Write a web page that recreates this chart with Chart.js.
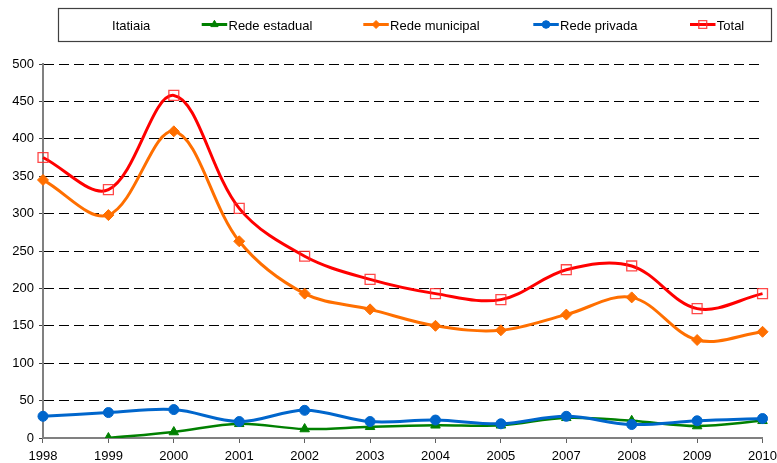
<!DOCTYPE html>
<html><head><meta charset="utf-8">
<script src="https://cdn.jsdelivr.net/npm/chart.js@4/dist/chart.umd.min.js"></script>
<style>html,body{margin:0;padding:0;background:#fff}#wrap{width:777px;height:463px;position:relative}</style>
</head><body><div id="wrap"><canvas id="c" width="777" height="463"></canvas></div>
<script>
const categories = ['1998','1999','2000','2001','2002','2003','2004','2005','2007','2008','2009','2010'];
const legendTitle = 'Itatiaia';
const seriesLabels = ['Rede estadual','Rede municipal','Rede privada','Total'];
const redeEstadual = [null,0,8,19,12,15,17,17,27,23,16,23];
const redeMunicipal = [345,298,410,263,193,172,150,144,165,188,131,142];
const redePrivada = [29,34,38,22,37,22,24,19,29,18,23,26];
const total = [375,332,458,307,243,212,193,185,225,230,173,193];
const yMin = 0, yMax = 500, yStep = 50;

const FONT = '"Liberation Sans", Arial, sans-serif';

function marker(ctx, style, r, x, y, fill, stroke, bw){
  ctx.save();
  ctx.beginPath();
  if(style==='circle'){ ctx.arc(x,y,r,0,Math.PI*2); }
  else if(style==='rectRot'){ ctx.moveTo(x-r,y); ctx.lineTo(x,y-r); ctx.lineTo(x+r,y); ctx.lineTo(x,y+r); ctx.closePath(); }
  else if(style==='triangle'){
    let a=0; ctx.moveTo(x+Math.sin(a)*r, y-Math.cos(a)*r);
    a+=2*Math.PI/3; ctx.lineTo(x+Math.sin(a)*r, y-Math.cos(a)*r);
    a+=2*Math.PI/3; ctx.lineTo(x+Math.sin(a)*r, y-Math.cos(a)*r); ctx.closePath();
  } else if(style==='rect'){ const s=Math.SQRT1_2*r; ctx.rect(x-s,y-s,2*s,2*s); }
  ctx.fillStyle=fill; ctx.fill();
  if(bw>0){ ctx.lineWidth=bw; ctx.strokeStyle=stroke; ctx.stroke(); }
  ctx.restore();
}

const legendPlugin = {
  id: 'excelLegend',
  afterDraw(chart){
    const ctx = chart.ctx;
    ctx.save();
    ctx.strokeStyle = '#404040'; ctx.lineWidth = 1.2;
    ctx.strokeRect(58.5, 8.5, 713, 33);
    ctx.fillStyle = '#000';
    ctx.font = '13px ' + FONT;
    ctx.textBaseline = 'middle';
    ctx.textAlign = 'center';
    ctx.fillText(legendTitle, 131.2, 26);
    const lineX = [201.7, 363.3, 533.3, 690];
    const legR = [4.2, 4, 3.8, 5.6];
    chart.data.datasets.forEach((ds, i) => {
      const x0 = lineX[i], x1 = x0 + 25.5, y = 24.5;
      ctx.save();
      ctx.strokeStyle = ds.borderColor; ctx.lineWidth = 3;
      ctx.beginPath(); ctx.moveTo(x0, y); ctx.lineTo(x1, y); ctx.stroke();
      ctx.restore();
      marker(ctx, ds.pointStyle, legR[i], (x0 + x1) / 2, y, ds.pointBackgroundColor, ds.pointBorderColor, ds.pointBorderWidth);
      ctx.fillStyle = '#000';
      ctx.textAlign = 'left';
      ctx.fillText(ds.label, x1 + 1.3, 26);
    });
    ctx.restore();
  }
};

const mk = (label, data, color, style, r, order, lw, extra) => Object.assign({
  label, data, order,
  borderColor: color, borderWidth: lw,
  pointStyle: style, pointRadius: r, pointHoverRadius: r,
  pointBackgroundColor: color, pointBorderColor: color, pointBorderWidth: 1,
  tension: 0.35, fill: false, spanGaps: false
}, extra || {});

new Chart(document.getElementById('c'), {
  type: 'line',
  data: {
    labels: categories,
    datasets: [
      mk(seriesLabels[0], redeEstadual, '#008000', 'triangle', 5.5, 4, 2.5),
      mk(seriesLabels[1], redeMunicipal, '#FF6F00', 'rectRot', 5.5, 3, 3),
      mk(seriesLabels[2], redePrivada, '#0066CC', 'circle', 5, 2, 3),
      mk(seriesLabels[3], total, '#FF0000', 'rect', 7, 1, 3,
         {pointBackgroundColor: 'rgba(255,255,255,0)', pointBorderColor: 'rgba(255,40,40,0.85)', pointBorderWidth: 1.3})
    ]
  },
  options: {
    responsive: false,
    animation: false,
    events: [],
    layout: { padding: { left: 7.3, top: 64, right: 0, bottom: -7.3 } },
    plugins: { legend: { display: false }, tooltip: { enabled: false } },
    scales: {
      x: {
        offset: false,
        grid: { drawOnChartArea: false, drawTicks: true, tickLength: 5, tickColor: '#606060', tickWidth: 1 },
        border: { display: true, color: '#808080', width: 2 },
        ticks: { color: '#000', font: { family: FONT, size: 13, lineHeight: 2.1 }, padding: 0, maxRotation: 0, autoSkip: false }
      },
      y: {
        min: yMin, max: yMax,
        grid: {
          color: (c) => c.tick && c.tick.value === 0 ? 'rgba(0,0,0,0)' : '#000',
          lineWidth: 1, drawTicks: true, tickLength: 4, tickColor: '#404040', tickWidth: 1
        },
        border: { display: true, color: '#808080', width: 2, dash: [10, 5] },
        ticks: { stepSize: yStep, color: '#000', font: { family: FONT, size: 13 }, padding: 5 }
      }
    }
  },
  plugins: [legendPlugin]
});
</script>
</body></html>
